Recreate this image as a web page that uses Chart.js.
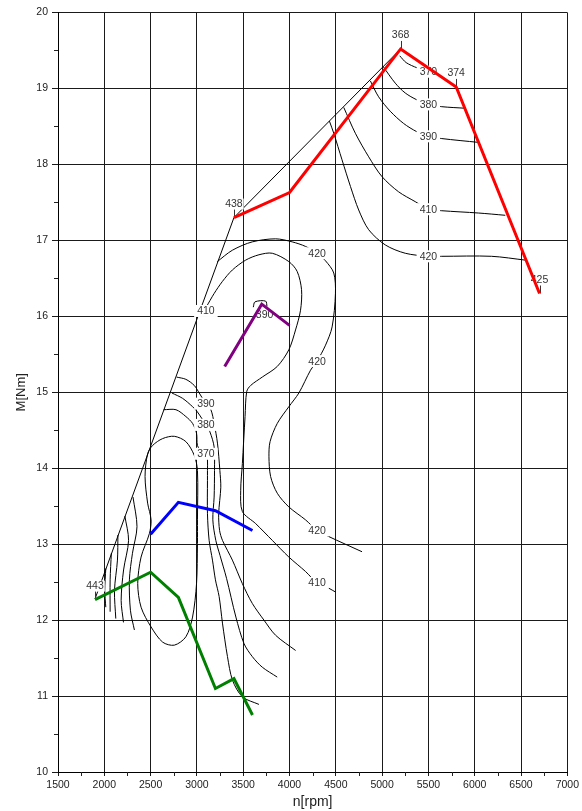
<!DOCTYPE html>
<html>
<head>
<meta charset="utf-8">
<script src="https://cdn.jsdelivr.net/npm/chart.js@4/dist/chart.umd.min.js"></script>
<style>
  html, body { margin: 0; padding: 0; background: #fff; }
  #wrap { width: 582px; height: 811px; }
</style>
</head>
<body>
<div id="wrap"><canvas id="c" width="582" height="811"></canvas></div>
<script>
// ---------- axis ticks ----------
const xMin = 1500, xMax = 7000, xStep = 500;
const yMin = 10, yMax = 20, yStep = 1;

// ---------- operating lines (rpm / torque) ----------
const redRpm    = [3400, 4000, 5200, 5800, 6700];
const redM      = [17.3, 17.63, 19.52, 19.02, 16.3];
const blueRpm   = [2500, 2800, 3200, 3600];
const blueM     = [13.13, 13.55, 13.44, 13.18];
const greenRpm  = [1900, 2500, 2800, 3200, 3400, 3600];
const greenM    = [12.27, 12.63, 12.3, 11.1, 11.23, 10.75];
const purpleRpm = [3300, 3700, 4000];
const purpleM   = [15.34, 16.16, 15.88];

// ---------- full load curve ----------
const fullLoad = [[1900, 12.28], [3400, 17.3], [5200, 19.52]];

// ---------- contour lines [rpm, M] ----------
const c370top = [[5190,19.43],[5260,19.34],[5380,19.27],[5500,19.22]];
const c380top = [[5010,19.29],[5142,19.07],[5250,18.94],[5375,18.85],[5500,18.79],[5644,18.76],[5890,18.74]];
const c390top = [[4873,19.10],[4962,18.89],[5088,18.70],[5231,18.54],[5375,18.43],[5500,18.37],[5644,18.34],[6040,18.29]];
const c410top = [[4586,18.75],[4711,18.41],[4855,18.10],[4998,17.84],[5177,17.64],[5357,17.51],[5500,17.41],[5644,17.39],[6039,17.36],[6330,17.33]];
const c420top = [[4431,18.57],[4478,18.41],[4567,18.06],[4658,17.71],[4747,17.40],[4855,17.14],[5034,16.94],[5250,16.83],[5500,16.79],[5644,16.79],[6182,16.79],[6545,16.74]];
const c420loop = [[3220,16.72],[3383,16.87],[3598,16.98],[3850,17.02],[4029,16.98],[4173,16.92],[4298,16.83],[4389,16.73],[4478,16.57],[4496,16.30],[4460,15.86],[4389,15.62],[4298,15.41],[4227,15.29],[4101,14.99],[3993,14.81],[3868,14.59],[3790,14.35],[3778,14.15],[3796,13.89],[3868,13.67],[3993,13.49],[4173,13.32],[4298,13.18],[4424,13.10],[4783,12.90]];
const c410mid = [[3100,16.12],[3186,16.30],[3276,16.46],[3383,16.61],[3527,16.74],[3670,16.81],[3814,16.83],[3993,16.72],[4083,16.59],[4130,16.35],[4119,16.08],[4065,15.82],[3993,15.56],[3868,15.34],[3706,15.20],[3581,15.09],[3538,15.01],[3520,14.68],[3491,14.06],[3473,13.71],[3491,13.43],[3635,13.27],[3814,13.05],[3993,12.83],[4173,12.64],[4298,12.49],[4424,12.42],[4496,12.37]];
const c390small = [[3609,16.12],[3627,16.19],[3742,16.20],[3757,16.13]];
const c390 = [[2780,15.20],[2881,15.17],[2971,15.09],[3025,14.99],[3097,14.85],[3151,14.77],[3186,14.59],[3222,14.33],[3248,13.97],[3258,13.75],[3235,13.40],[3245,13.18],[3276,13.05],[3383,12.79],[3491,12.48],[3598,12.22],[3724,12.00],[3850,11.80],[4066,11.60]];
const c380 = [[2730,14.99],[2845,14.92],[2953,14.81],[3006,14.74],[3097,14.57],[3140,14.48],[3186,14.28],[3190,13.97],[3186,13.62],[3172,13.32],[3204,13.05],[3250,12.85],[3320,12.55],[3421,12.04],[3509,11.69],[3598,11.52],[3706,11.38],[3867,11.25]];
const c370 = [[2641,14.77],[2774,14.77],[2881,14.68],[2953,14.59],[2996,14.46],[3006,14.30],[3050,14.22],[3097,14.19],[3114,14.11],[3114,13.97],[3114,13.84],[3114,13.40],[3132,13.05],[3168,12.79],[3200,12.53],[3240,12.31],[3276,11.96],[3330,11.52],[3384,11.21],[3491,10.99],[3670,10.89]];
const cInner = [[3006,13.32],[3006,13.97],[2971,14.17],[2881,14.35],[2756,14.42],[2630,14.39],[2522,14.30],[2468,14.19],[2440,13.89],[2468,13.54],[2505,13.32],[2487,13.14],[2397,12.83],[2361,12.48],[2397,12.17],[2505,11.91],[2630,11.71],[2756,11.67],[2881,11.78],[2953,12.04],[2996,12.48],[3006,13.01],[3006,13.32]];
const cLL1 = [[2310,13.62],[2353,13.23],[2304,12.88],[2271,12.53],[2282,12.13],[2325,11.87]];
const cLL2 = [[2222,13.37],[2262,13.05],[2208,12.66],[2182,12.26],[2207,11.97]];
const cLL3 = [[2147,13.12],[2142,12.79],[2110,12.39],[2124,12.02]];
const cLL4 = [[2076,12.88],[2063,12.53],[2063,12.11]];
const cLL5 = [[2016,12.68],[2005,12.39],[2016,12.17]];

// ---------- contour labels: text, rpm, M ----------
const contourLabelText = ['370','380','390','410','420','420','420','420','410','410','390','390','380','370'];
const contourLabelRpm  = [5500, 5500, 5500, 5500, 5500, 4298, 4298, 4298, 4298, 3097, 3731, 3097, 3097, 3097];
const contourLabelM    = [19.22,18.79,18.37,17.41,16.79,16.83,15.41,13.18,12.49,16.07,16.02,14.85,14.57,14.19];

// ---------- point labels on operating-line ends ----------
const pointLabelText = ['438','368','374','425','443'];
const pointLabelRpm  = [3400, 5200, 5800, 6700, 1900];
const pointLabelM    = [17.3, 19.52, 19.02, 16.3, 12.27];

// ---------- build datasets ----------
const toXY = arr => arr.map(p => ({x: p[0], y: p[1]}));
const zip = (xs, ys) => xs.map((x, i) => ({x, y: ys[i]}));

const contours = [fullLoad, c370top, c380top, c390top, c410top, c420top, c420loop, c410mid,
                  c390small, c390, c380, c370, cInner, cLL1, cLL2, cLL3, cLL4, cLL5];
const datasets = contours.map((c, i) => ({
  data: toXY(c),
  borderColor: '#000',
  borderWidth: 1,
  pointRadius: 0,
  tension: i === 0 ? 0 : 0.3,
  fill: false,
  order: 1
}));
[[redRpm, redM, '#ff0000'], [blueRpm, blueM, '#0000ff'], [greenRpm, greenM, '#008000'], [purpleRpm, purpleM, '#800080']]
  .forEach(([xs, ys, col]) => datasets.push({
    data: zip(xs, ys), borderColor: col, borderWidth: 3, pointRadius: 0,
    tension: 0, fill: false, order: 0, isSeries: true
  }));

const FONT = 'Arial, "Liberation Sans", Helvetica, sans-serif';

function drawLabels(chart) {
  const ctx = chart.ctx, xs = chart.scales.x, ys = chart.scales.y, a = chart.chartArea;
  ctx.save();
  ctx.beginPath(); ctx.rect(a.left, a.top, a.right - a.left, a.bottom - a.top); ctx.clip();
  ctx.font = '10.5px ' + FONT;
  ctx.textAlign = 'center'; ctx.textBaseline = 'middle';
  contourLabelText.forEach((t, i) => {
    const px = xs.getPixelForValue(contourLabelRpm[i]);
    const py = ys.getPixelForValue(contourLabelM[i]);
    const w = ctx.measureText(t).width;
    ctx.fillStyle = '#fff';
    ctx.fillRect(px - w / 2 - 3, py - 6, w + 6, 12);
    ctx.fillStyle = '#333';
    ctx.fillText(t, px, py + 0.5);
  });
  pointLabelText.forEach((t, i) => {
    const px = xs.getPixelForValue(pointLabelRpm[i]);
    const py = ys.getPixelForValue(pointLabelM[i]);
    const w = ctx.measureText(t).width;
    ctx.fillStyle = '#fff';
    ctx.fillRect(px - w / 2 - 1, py - 19, w + 2, 11);
    ctx.fillStyle = '#333';
    ctx.fillText(t, px, py - 13.5);
    ctx.strokeStyle = '#333'; ctx.lineWidth = 1;
    ctx.beginPath(); ctx.moveTo(Math.round(px) + 0.5, py - 8); ctx.lineTo(Math.round(px) + 0.5, py); ctx.stroke();
  });
  ctx.restore();
}

const labelPlugin = {
  id: 'mapLabels',
  beforeDatasetsDraw(chart) { chart.$lblDone = false; },
  beforeDatasetDraw(chart, args) {
    if (!chart.$lblDone && chart.data.datasets[args.index].isSeries) {
      drawLabels(chart); chart.$lblDone = true;
    }
  },
  afterDatasetsDraw(chart) {
    if (!chart.$lblDone) { drawLabels(chart); chart.$lblDone = true; }
  },
  afterDraw(chart) {
    // minor ticks
    const ctx = chart.ctx, xs = chart.scales.x, ys = chart.scales.y, a = chart.chartArea;
    ctx.save();
    ctx.strokeStyle = '#222'; ctx.lineWidth = 1;
    ctx.beginPath();
    for (let v = xMin + xStep / 2; v < xMax; v += xStep) {
      const px = Math.round(xs.getPixelForValue(v)) + 0.5;
      ctx.moveTo(px, a.bottom); ctx.lineTo(px, a.bottom + 4);
    }
    for (let v = yMin + yStep / 2; v < yMax; v += yStep) {
      const py = Math.round(ys.getPixelForValue(v)) + 0.5;
      ctx.moveTo(a.left - 4, py); ctx.lineTo(a.left, py);
    }
    ctx.stroke();
    ctx.restore();
  }
};

new Chart(document.getElementById('c'), {
  type: 'line',
  data: { datasets },
  plugins: [labelPlugin],
  options: {
    responsive: false,
    animation: false,
    events: [],
    layout: { padding: { top: 12.5, right: 8, left: 0, bottom: 0 } },
    plugins: { legend: { display: false }, tooltip: { enabled: false } },
    scales: {
      x: {
        type: 'linear', min: xMin, max: xMax,
        afterFit: s => { s.height = 39; },
        ticks: { stepSize: xStep, color: '#222', font: { size: 10.5, family: FONT }, padding: 3, maxRotation: 0,
                 callback: v => String(v) },
        grid: { color: '#1a1a1a', lineWidth: 1, tickLength: 4 },
        border: { color: '#000', width: 1 },
        title: { display: true, text: 'n[rpm]', color: '#222', font: { size: 14, family: FONT }, padding: { top: 0, bottom: 0 } }
      },
      y: {
        type: 'linear', min: yMin, max: yMax,
        afterFit: s => { s.width = 58; },
        ticks: { stepSize: yStep, color: '#222', font: { size: 10.5, family: FONT }, padding: 4,
                 callback: v => String(v) },
        grid: { color: '#1a1a1a', lineWidth: 1, tickLength: 6 },
        border: { color: '#000', width: 1 },
        title: { display: true, text: 'M[Nm]', color: '#222', font: { size: 13, family: FONT }, padding: { top: 14, bottom: 0 } }
      }
    }
  }
});
</script>
</body>
</html>
